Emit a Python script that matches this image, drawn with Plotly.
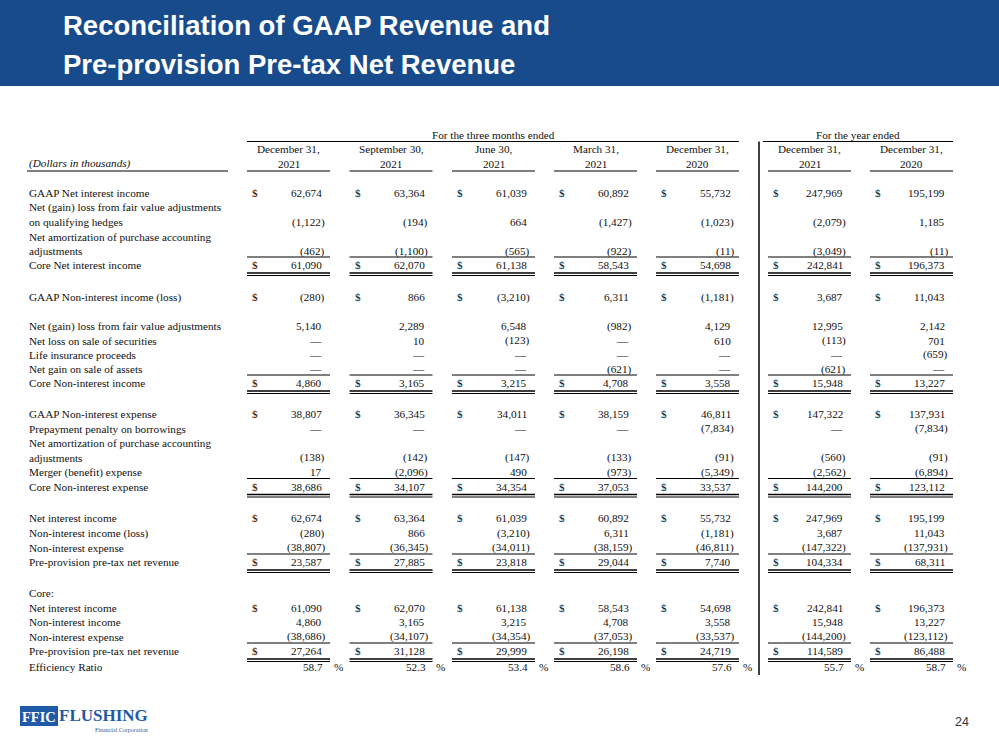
import plotly.graph_objects as go

# ---------------- data ----------------
period_month = ["December 31,", "September 30,", "June 30,", "March 31,", "December 31,",
                "December 31,", "December 31,"]
period_year = ["2021", "2021", "2021", "2021", "2020", "2021", "2020"]
group_labels = ["For the three months ended", "For the year ended"]

gaap_net_interest_income = [62674, 63364, 61039, 60892, 55732, 247969, 195199]
fv_adj_qualifying_hedges = [-1122, -194, 664, -1427, -1023, -2079, 1185]
purchase_acct_amort_nii = [-462, -1100, -565, -922, -11, -3049, -11]
core_net_interest_income = [61090, 62070, 61138, 58543, 54698, 242841, 196373]

gaap_non_interest_income = [-280, 866, -3210, 6311, -1181, 3687, 11043]
fv_adj_non_interest = [5140, 2289, 6548, -982, 4129, 12995, 2142]
loss_on_sale_securities = [None, 10, -123, None, 610, -113, 701]
life_insurance_proceeds = [None, None, None, None, None, None, -659]
gain_on_sale_assets = [None, None, None, -621, None, -621, None]
core_non_interest_income = [4860, 3165, 3215, 4708, 3558, 15948, 13227]

gaap_non_interest_expense = [38807, 36345, 34011, 38159, 46811, 147322, 137931]
prepayment_penalty = [None, None, None, None, -7834, None, -7834]
purchase_acct_amort_exp = [-138, -142, -147, -133, -91, -560, -91]
merger_expense = [17, -2096, 490, -973, -5349, -2562, -6894]
core_non_interest_expense = [38686, 34107, 34354, 37053, 33537, 144200, 123112]

ppnr_non_interest_expense = [-38807, -36345, -34011, -38159, -46811, -147322, -137931]
pre_provision_net_revenue = [23587, 27885, 23818, 29044, 7740, 104334, 68311]

core_ppnr_non_interest_expense = [-38686, -34107, -34354, -37053, -33537, -144200, -123112]
core_pre_provision_net_revenue = [27264, 31128, 29999, 26198, 24719, 114589, 86488]
efficiency_ratio = [58.7, 52.3, 53.4, 58.6, 57.6, 55.7, 58.7]

title_lines = ["Reconciliation of GAAP Revenue and", "Pre-provision Pre-tax Net Revenue"]
page_number = "24"

# ---------------- layout helpers ----------------
W, H = 999, 750
BLUE = "#184B8C"
INK = "#111111"
SERIF = "Liberation Serif, Times New Roman, serif"
SANS = "Liberation Sans, Arial, sans-serif"
FS = 11.2

col_start = [247, 349.5, 452, 554, 656, 768, 870]
col_w = 83
label_x = 27

# (y, label, series, dollar, total, kind)
rows = [
    (193, "GAAP Net interest income", gaap_net_interest_income, True, False, "num"),
    (207.5, "Net (gain) loss from fair value adjustments", None, False, False, "num"),
    (222, "on qualifying hedges", fv_adj_qualifying_hedges, False, False, "num"),
    (236.5, "Net amortization of purchase accounting", None, False, False, "num"),
    (251, "adjustments", purchase_acct_amort_nii, False, False, "num"),
    (265, "Core Net interest income", core_net_interest_income, True, True, "num"),
    (297, "GAAP Non-interest income (loss)", gaap_non_interest_income, True, False, "num"),
    (326, "Net (gain) loss from fair value adjustments", fv_adj_non_interest, False, False, "num"),
    (340.5, "Net loss on sale of securities", loss_on_sale_securities, False, False, "num"),
    (354.5, "Life insurance proceeds", life_insurance_proceeds, False, False, "num"),
    (369, "Net gain on sale of assets", gain_on_sale_assets, False, False, "num"),
    (383, "Core Non-interest income", core_non_interest_income, True, True, "num"),
    (414, "GAAP Non-interest expense", gaap_non_interest_expense, True, False, "num"),
    (428.5, "Prepayment penalty on borrowings", prepayment_penalty, False, False, "num"),
    (443, "Net amortization of purchase accounting", None, False, False, "num"),
    (457.5, "adjustments", purchase_acct_amort_exp, False, False, "num"),
    (472, "Merger (benefit) expense", merger_expense, False, False, "num"),
    (486.5, "Core Non-interest expense", core_non_interest_expense, True, True, "num"),
    (518, "Net interest income", gaap_net_interest_income, True, False, "num"),
    (533, "Non-interest income (loss)", gaap_non_interest_income, False, False, "num"),
    (547.5, "Non-interest expense", ppnr_non_interest_expense, False, False, "num"),
    (562, "Pre-provision pre-tax net revenue", pre_provision_net_revenue, True, True, "num"),
    (593, "Core:", None, False, False, "num"),
    (607.5, "Net interest income", core_net_interest_income, True, False, "num"),
    (622, "Non-interest income", core_non_interest_income, False, False, "num"),
    (636.5, "Non-interest expense", core_ppnr_non_interest_expense, False, False, "num"),
    (651, "Pre-provision pre-tax net revenue", core_pre_provision_net_revenue, True, True, "num"),
    (667, "Efficiency Ratio", efficiency_ratio, False, False, "pct"),
]


def fmt(v):
    if v is None:
        return "—"
    if v < 0:
        return "({:,})".format(-v)
    return "{:,}".format(v)


annotations = []
shapes = []


def txt(x, y, s, anchor="left", size=FS, color=INK, family=SERIF, **kw):
    annotations.append(dict(x=x, y=y, xref="x", yref="y", text=s, showarrow=False,
                            xanchor=anchor, yanchor="middle",
                            font=dict(family=family, size=size, color=color), **kw))


def hline(x0, x1, y, width=1.0, color="#000"):
    shapes.append(dict(type="line", xref="x", yref="y", x0=x0, x1=x1, y0=y, y1=y,
                       line=dict(color=color, width=width)))


# banner
shapes.append(dict(type="rect", xref="x", yref="y", x0=-2, x1=W + 2, y0=-2, y1=86,
                   fillcolor=BLUE, line=dict(width=0), layer="below"))
for i, t in enumerate(title_lines):
    txt(61, 25 + 39 * i, "<b>" + t + "</b>", size=27.5, color="white", family=SANS)

# column group headers
txt((col_start[0] + col_start[4] + col_w) / 2, 134.5, group_labels[0], anchor="center")
hline(col_start[0], col_start[4] + col_w, 141.5)
txt((763 + 953) / 2, 134.5, group_labels[1], anchor="center")
hline(763, 953, 141.5)

for j in range(7):
    cx = col_start[j] + col_w / 2
    txt(cx, 148.5, period_month[j], anchor="center")
    txt(cx, 163.5, period_year[j], anchor="center")
    hline(col_start[j], col_start[j] + col_w, 171)

txt(label_x, 163.5, "<i>(Dollars in thousands)</i>")
hline(label_x, 228, 171)

# vertical divider between quarterly and annual blocks
shapes.append(dict(type="line", xref="x", yref="y", x0=759, x1=759, y0=141.5, y1=675,
                   line=dict(color="#000", width=1.5)))

# body
for (y, label, series, dollar, total, kind) in rows:
    txt(label_x, y, label)
    if series is None:
        continue
    for j, v in enumerate(series):
        x0 = col_start[j]
        x1 = x0 + col_w
        if kind == "pct":
            txt(x1 - 5, y, "{:.1f}".format(v), anchor="right")
            txt(x1 + 1.5, y, "%", anchor="left")
            continue
        s = fmt(v)
        right = x1 - 3 if (v is not None and v < 0) else x1 - 6
        txt(right, y, s, anchor="right")
        if dollar:
            txt(x0 + 3, y, "$", anchor="left")
        if total:
            hline(x0, x1, y - 8)
            hline(x0, x1, y + 8, width=1.3)
            hline(x0, x1, y + 10.5, width=1.0)

# footer: logo + page number
shapes.append(dict(type="rect", xref="x", yref="y", x0=20, x1=58, y0=706, y1=726,
                   fillcolor="#1F5AA6", line=dict(width=0)))
txt(39, 716.5, "<b>FFIC</b>", anchor="center", size=14.5, color="white",
    family=SERIF)
txt(57, 715, "<b>FLUSHING</b>", anchor="left", size=17, color="#1F5AA6",
    family=SERIF)
txt(150, 729.5, "Financial Corporation", anchor="right", size=6, color="#1F5AA6",
    family=SERIF)
txt(971, 722, page_number, anchor="right", size=12.5, color="#333333", family=SANS)

fig = go.Figure()
fig.add_trace(go.Scatter(x=[0, W], y=[0, H], mode="markers",
                         marker=dict(opacity=0), hoverinfo="skip", showlegend=False))
fig.update_layout(
    width=W, height=H, autosize=False,
    margin=dict(l=0, r=0, t=0, b=0, pad=0),
    paper_bgcolor="white", plot_bgcolor="white",
    xaxis=dict(range=[0, W], visible=False, fixedrange=True),
    yaxis=dict(range=[H, 0], visible=False, fixedrange=True),
    shapes=shapes, annotations=annotations, showlegend=False,
)
fig.write_html("out.html", config={"displayModeBar": False},
               post_script="document.body.style.margin='0';document.body.style.overflow='hidden';")
